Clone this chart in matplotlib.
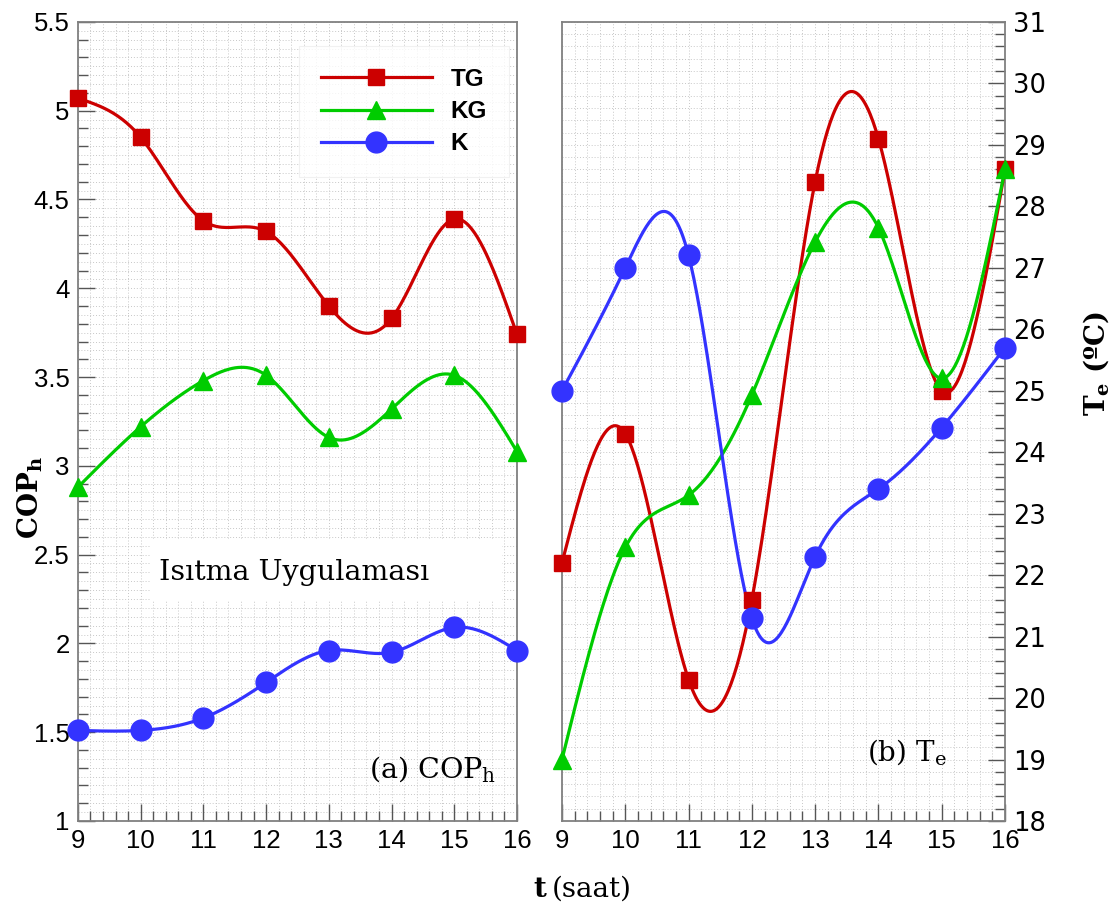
import numpy as np
import matplotlib
matplotlib.use("Agg")
import matplotlib.pyplot as plt
from matplotlib.lines import Line2D
from matplotlib.patches import Rectangle
from matplotlib.ticker import MultipleLocator, FuncFormatter

# hours
t = [9, 10, 11, 12, 13, 14, 15, 16]

# (a) COP_h
cop_tg = [5.07, 4.85, 4.38, 4.32, 3.90, 3.83, 4.39, 3.74]
cop_kg = [2.88, 3.22, 3.48, 3.51, 3.16, 3.32, 3.51, 3.08]
cop_k = [1.51, 1.51, 1.58, 1.78, 1.96, 1.95, 2.09, 1.96]

# (b) Te (degC)
te_tg = [22.2, 24.3, 20.3, 21.6, 28.4, 29.1, 25.0, 28.6]
te_kg = [19.0, 22.45, 23.3, 24.93, 27.42, 27.65, 25.2, 28.6]
te_k = [25.0, 27.0, 27.2, 21.3, 22.3, 23.4, 24.4, 25.7]

series = ["TG", "KG", "K"]
colors = {"TG": "#cc0000", "KG": "#00cc00", "K": "#3333ff"}
markers = {"TG": ("s", 11.5), "KG": ("^", 13), "K": ("o", 15)}

SANS = "Liberation Sans"
SERIF = "DejaVu Serif"


def spline_curve(x, y, n=300):
    # natural cubic spline, only used to draw the smooth connecting line
    x = np.asarray(x, float)
    y = np.asarray(y, float)
    m = len(x)
    h = np.diff(x)
    A = np.zeros((m, m))
    b = np.zeros(m)
    A[0, 0] = A[-1, -1] = 1
    for i in range(1, m - 1):
        A[i, i - 1] = h[i - 1]
        A[i, i] = 2 * (h[i - 1] + h[i])
        A[i, i + 1] = h[i]
        b[i] = 6 * ((y[i + 1] - y[i]) / h[i] - (y[i] - y[i - 1]) / h[i - 1])
    M = np.linalg.solve(A, b)
    xs = np.linspace(x[0], x[-1], n)
    idx = np.clip(np.searchsorted(x, xs) - 1, 0, m - 2)
    x0, x1 = x[idx], x[idx + 1]
    hh = x1 - x0
    ys = (M[idx] * (x1 - xs) ** 3 / (6 * hh) + M[idx + 1] * (xs - x0) ** 3 / (6 * hh)
          + (y[idx] / hh - M[idx] * hh / 6) * (x1 - xs)
          + (y[idx + 1] / hh - M[idx + 1] * hh / 6) * (xs - x0))
    return xs, ys


def draw(ax, data):
    for name in series:
        xs, ys = spline_curve(t, data[name])
        ax.plot(xs, ys, color=colors[name], lw=2.3, zorder=3)
        mk, ms = markers[name]
        ax.plot(t, data[name], linestyle="none", marker=mk, ms=ms,
                color=colors[name], zorder=4, clip_on=False)


def style(ax):
    for sp in ax.spines.values():
        sp.set_color("#808080")
        sp.set_linewidth(1.3)
    ax.set_xlim(9, 16)
    ax.xaxis.set_major_locator(MultipleLocator(1))
    ax.xaxis.set_minor_locator(MultipleLocator(0.2))
    ax.tick_params(which="both", direction="in", color="#555555", width=1,
                   labelsize=18.5, pad=6)
    ax.tick_params(which="major", length=12)
    ax.tick_params(which="minor", length=7)
    for lab in ax.get_xticklabels() + ax.get_yticklabels():
        lab.set_fontfamily(SANS)
    ax.set_axisbelow(True)


def dotted_grid(ax, xstep, ystep, y0, y1):
    for v in np.arange(y0, y1 + 1e-6, ystep):
        ax.axhline(v, color="#c8c8c8", lw=0.7, ls=(0, (1, 2)), zorder=0.5)
    for v in np.arange(9, 16 + 1e-6, xstep):
        ax.axvline(v, color="#c8c8c8", lw=0.7, ls=(0, (1, 2)), zorder=0.5)


fig = plt.figure(figsize=(11.2, 9.13), dpi=100)
ax1 = fig.add_axes([0.0696, 0.1008, 0.392, 0.8752])
ax2 = fig.add_axes([0.5018, 0.1008, 0.3955, 0.8752])

# ---- (a) COP_h
draw(ax1, {"TG": cop_tg, "KG": cop_kg, "K": cop_k})
ax1.set_ylim(1, 5.5)
ax1.yaxis.set_major_locator(MultipleLocator(0.5))
ax1.yaxis.set_minor_locator(MultipleLocator(0.1))
ax1.yaxis.set_major_formatter(FuncFormatter(lambda v, p: f"{v:g}"))
style(ax1)
ax1.tick_params(axis="y", which="both", left=True, right=False)
dotted_grid(ax1, 0.2, 0.05, 1, 5.5)

ax1.add_patch(Rectangle((0.165, 0.275), 0.8, 0.078, transform=ax1.transAxes,
                        facecolor="white", edgecolor="none", zorder=1))
ax1.text(12.45, 2.40, "Isıtma Uygulaması", fontsize=20.5, family=SERIF,
         ha="center", va="center", zorder=2)
ax1.text(14.65, 1.29, "(a) COP$\\mathregular{_h}$", fontsize=20.5, family=SERIF,
         ha="center", va="center", zorder=2)

handles = [Line2D([], [], color=colors[n], lw=2.3, marker=markers[n][0],
                  ms=markers[n][1]) for n in series]
leg = ax1.legend(handles, series, loc="upper left", bbox_to_anchor=(0.475, 0.985),
                 handlelength=4.6, handletextpad=0.75, labelspacing=0.38,
                 borderpad=0.9, frameon=True, fancybox=False,
                 prop={"family": SANS, "weight": "bold", "size": 17.5})
leg.get_frame().set_edgecolor("#eeeeee")
leg.get_frame().set_linewidth(0.8)
leg.set_zorder(5)

# ---- (b) Te
draw(ax2, {"TG": te_tg, "KG": te_kg, "K": te_k})
ax2.set_ylim(18, 31)
ax2.yaxis.set_major_locator(MultipleLocator(1))
ax2.yaxis.set_minor_locator(MultipleLocator(0.2))
style(ax2)
ax2.yaxis.tick_right()
ax2.tick_params(axis="y", which="both", left=False, right=True)
dotted_grid(ax2, 0.2, 0.2, 18, 31)
ax2.text(14.45, 19.13, "(b) T$\\mathregular{_e}$", fontsize=20, family=SERIF,
         ha="center", va="center", zorder=2)

# ---- axis titles
fig.text(0.027, 0.455, "COP$\\mathregular{_h}$", fontsize=20, family=SERIF,
         fontweight="bold", rotation=90, ha="center", va="center")
fig.text(0.979, 0.602, "T$\\mathregular{_e}$ (ºC)", fontsize=20, family=SERIF,
         fontweight="bold", rotation=90, ha="center", va="center")
fig.text(0.488, 0.018, "t", fontsize=20, family=SERIF, fontweight="bold",
         ha="right", va="baseline")
fig.text(0.493, 0.018, "(saat)", fontsize=20, family=SERIF,
         ha="left", va="baseline")

fig.savefig("out.png", dpi=100, facecolor="white")
